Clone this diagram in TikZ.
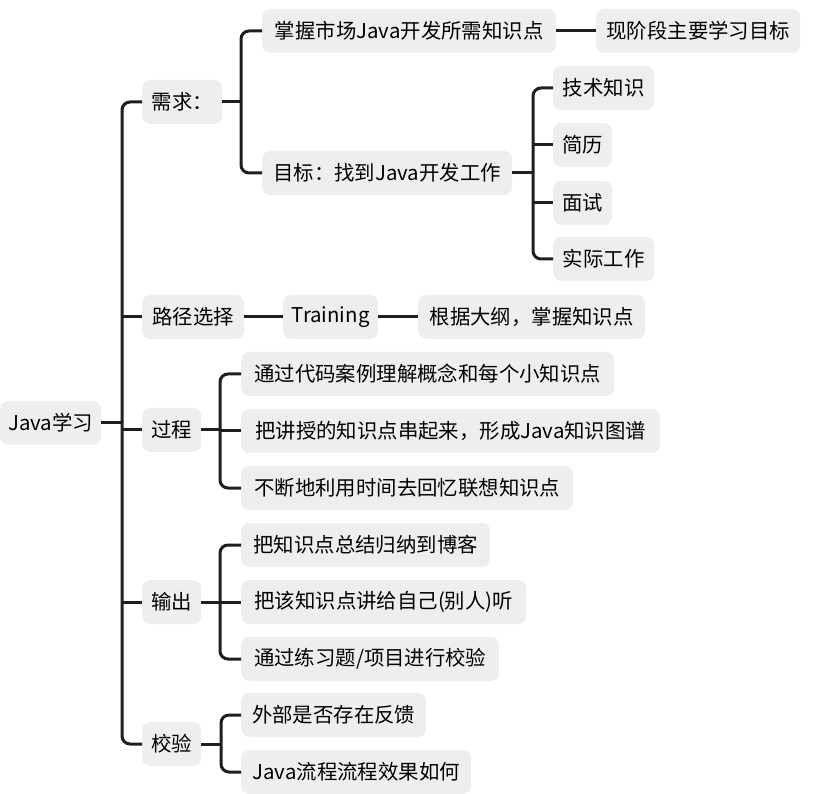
\documentclass[tikz,border=0pt]{standalone}
\usepackage{fontspec}
\setmainfont{Noto Sans CJK SC}
\definecolor{boxgray}{HTML}{EEEEEE}
\definecolor{linec}{HTML}{1E1E1E}
\begin{document}
\begin{tikzpicture}[x=1pt,y=-1pt,
  box/.style={fill=boxgray, rounded corners=8pt, inner xsep=8pt, inner ysep=0pt,
    minimum height=44pt, anchor=west, text=black, font=\fontsize{20.4}{24}\selectfont},
  ln/.style={draw=linec, line width=3pt},
  rln/.style={draw=linec, line width=3pt, rounded corners=8pt}]
\useasboundingbox (0,0) rectangle (820,794);
% nodes
\node[box,minimum width=101pt] (root) at (0,423) {Java学习};
\node[box,minimum width=80pt] (req) at (142,102) {需求：};
\node[box,minimum width=294pt] (m1) at (262,31) {掌握市场Java开发所需知识点};
\node[box,minimum width=204pt] (m1a) at (596,31) {现阶段主要学习目标};
\node[box,minimum width=250pt] (m2) at (262,173) {目标：找到Java开发工作};
\node[box,minimum width=101pt] (t1) at (553,88) {技术知识};
\node[box,minimum width=59pt] (t2) at (553,145) {简历};
\node[box,minimum width=59pt] (t3) at (553,203) {面试};
\node[box,minimum width=101pt] (t4) at (553,259) {实际工作};
\node[box,minimum width=102pt] (path) at (142,317) {路径选择};
\node[box,minimum width=95pt] (tr) at (283,317) {Training};
\node[box,minimum width=227pt] (tr1) at (418,317) {根据大纲，掌握知识点};
\node[box,minimum width=59pt] (proc) at (142,430) {过程};
\node[box,minimum width=373pt] (p1) at (241,374) {通过代码案例理解概念和每个小知识点};
\node[box,minimum width=419pt] (p2) at (241,431) {把讲授的知识点串起来，形成Java知识图谱};
\node[box,minimum width=332pt] (p3) at (241,488) {不断地利用时间去回忆联想知识点};
\node[box,minimum width=59pt] (out) at (142,602) {输出};
\node[box,minimum width=249pt] (o1) at (241,545) {把知识点总结归纳到博客};
\node[box,minimum width=285pt] (o2) at (241,602) {把该知识点讲给自己(别人)听};
\node[box,minimum width=258pt] (o3) at (241,659) {通过练习题/项目进行校验};
\node[box,minimum width=59pt] (chk) at (142,744) {校验};
\node[box,minimum width=185pt] (c1) at (241,715) {外部是否存在反馈};
\node[box,minimum width=230pt] (c2) at (241,772) {Java流程流程效果如何};
% vertical positions
\coordinate (v0) at (122,0);
\coordinate (v1) at (241,0);
\coordinate (v2) at (533,0);
\coordinate (v3) at (220,0);
\coordinate (v4) at (221,0);
% root
\draw[ln] (root.east) -- (root.east -| v0);
\draw[rln] (req.west) -| (v0 |- chk.west) -- (chk.west);
\foreach \n in {path,proc,out} \draw[ln] (v0 |- \n.west) -- (\n.west);
% need
\draw[ln] (req.east) -- (req.east -| v1);
\draw[rln] (m1.west) -| (v1 |- m2.west) -- (m2.west);
\draw[ln] (m1.east) -- (m1a.west);
% goal
\draw[ln] (m2.east) -- (m2.east -| v2);
\draw[rln] (t1.west) -| (v2 |- t4.west) -- (t4.west);
\foreach \n in {t2,t3} \draw[ln] (v2 |- \n.west) -- (\n.west);
% path
\draw[ln] (path.east) -- (tr.west);
\draw[ln] (tr.east) -- (tr1.west);
% process
\draw[ln] (proc.east) -- (proc.east -| v3);
\draw[rln] (p1.west) -| (v3 |- p3.west) -- (p3.west);
\draw[ln] (v3 |- p2.west) -- (p2.west);
% output
\draw[ln] (out.east) -- (out.east -| v3);
\draw[rln] (o1.west) -| (v3 |- o3.west) -- (o3.west);
\draw[ln] (v3 |- o2.west) -- (o2.west);
% check
\draw[ln] (chk.east) -- (chk.east -| v4);
\draw[rln] (c1.west) -| (v4 |- c2.west) -- (c2.west);
\end{tikzpicture}
\end{document}
